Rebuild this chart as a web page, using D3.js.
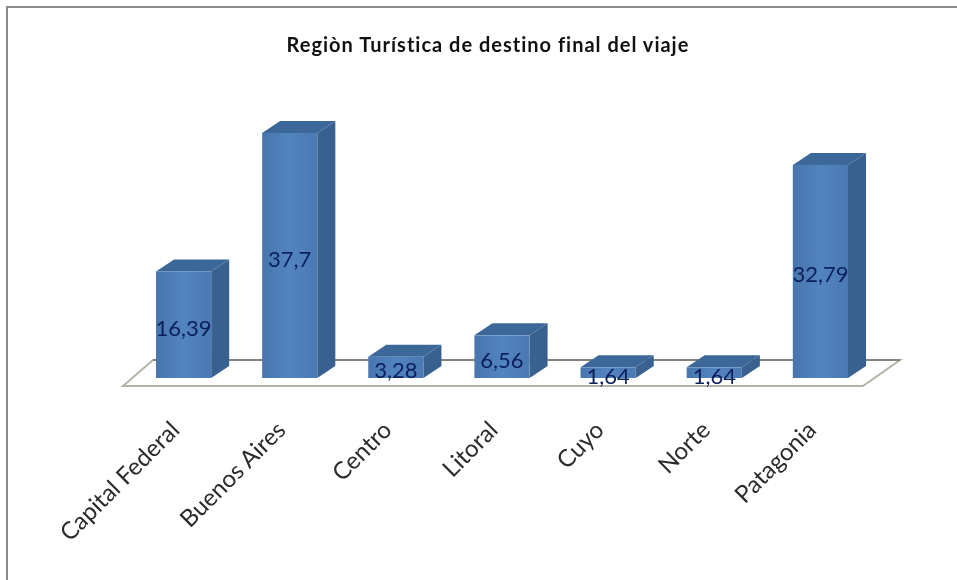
<!DOCTYPE html>
<html>
<head>
<meta charset="utf-8">
<script src="https://cdn.jsdelivr.net/npm/d3@7"></script>
<style>
  html, body { margin: 0; padding: 0; background: #fff; overflow: hidden; }
  /* the reference is a soft, low quality image */
  svg { display: block; filter: blur(0.5px); }
</style>
</head>
<body>
<div id="chart"></div>
<script>
// Data
const regions = ["Capital Federal", "Buenos Aires", "Centro", "Litoral", "Cuyo", "Norte", "Patagonia"];
const shares = [16.39, 37.7, 3.28, 6.56, 1.64, 1.64, 32.79];
const chartTitle = "Regiòn Turística de destino final del viaje";

// Set dimensions
const width = 957,
    height = 580;

// Fake 3D depth of the bars and the floor
const depthX = 18,
    depthY = 12;

const svg = d3.select("#chart")
  .append("svg")
  .attr("width", width)
  .attr("height", height);

// Scales
const x = d3.scaleBand()
  .domain(regions)
  .range([156, 848])
  .paddingInner(0.48)
  .paddingOuter(0);

const y = d3.scaleLinear()
  .domain([0, d3.max(shares)])
  .range([378, 133]);

// Soft horizontal shading on the front faces
const grad = svg.append("defs").append("linearGradient")
  .attr("id", "front");
grad.append("stop").attr("offset", "0%").attr("stop-color", "#4876ae");
grad.append("stop").attr("offset", "50%").attr("stop-color", "#5284c0");
grad.append("stop").attr("offset", "100%").attr("stop-color", "#4a79b3");

// Outer frame (only top and left are visible)
svg.append("path")
  .attr("d", `M7,${height + 5}V7H${width + 5}`)
  .attr("fill", "none")
  .attr("stroke", "#8c8c8c")
  .attr("stroke-width", 2);

// Title
svg.append("text")
  .attr("x", 488)
  .attr("y", 52)
  .attr("text-anchor", "middle")
  .attr("font-family", "Lato, sans-serif")
  .attr("font-weight", "bold")
  .attr("font-size", "20px")
  .attr("letter-spacing", "1px")
  .attr("fill", "#111")
  .text(chartTitle);

// Floor
const floorLeft = x.range()[0] - 33,
    floorRight = x.range()[1] + 15,
    floorFront = y(0) + 8,
    floorBack = y(0) - 18;

svg.append("path")
  .attr("d", `M${floorLeft},${floorFront}L${floorLeft + 30},${floorBack}H${floorRight + 37}L${floorRight},${floorFront}Z`)
  .attr("fill", "#fff")
  .attr("stroke", "#b5b2a8")
  .attr("stroke-width", 2);

svg.append("path")
  .attr("d", `M${floorLeft + 30},${floorBack}H${floorRight + 37}`)
  .attr("stroke", "#85827a")
  .attr("stroke-width", 2);

// Bars: side, top, then front
const data = regions.map((name, i) => ({ name, value: shares[i] }));

const bars = svg.append("g")
  .selectAll("g")
  .data(data)
  .join("g");

bars.append("path")
  .attr("fill", "#38618f")
  .attr("d", d => {
    const r = x(d.name) + x.bandwidth();
    return `M${r},${y(d.value)}l${depthX},${-depthY}V${y(0) - depthY}l${-depthX},${depthY}Z`;
  });

bars.append("path")
  .attr("fill", "#3c6899")
  .attr("d", d => `M${x(d.name)},${y(d.value)}l${depthX},${-depthY}h${x.bandwidth()}l${-depthX},${depthY}Z`);

bars.append("rect")
  .attr("x", d => x(d.name))
  .attr("y", d => y(d.value))
  .attr("width", x.bandwidth())
  .attr("height", d => y(0) - y(d.value))
  .attr("fill", "url(#front)");

// Value labels, decimal comma as in the original
bars.append("text")
  .attr("x", d => x(d.name) + x.bandwidth() / 2)
  .attr("y", d => y(d.value / 2) + 11)
  .attr("text-anchor", "middle")
  .attr("font-family", "Lato, sans-serif")
  .attr("font-size", "22px")
  .attr("fill", "#0b1f5a")
  .text(d => String(d.value).replace(".", ","));

// Category axis with slanted labels
const xAxis = svg.append("g")
  .attr("transform", "translate(-10,427)")
  .call(d3.axisBottom(x).tickSize(0).tickPadding(0));

xAxis.select(".domain").remove();

xAxis.selectAll("text")
  .attr("x", 2)
  .attr("y", 0)
  .attr("dy", "0.35em")
  .attr("transform", "rotate(-45)")
  .attr("text-anchor", "end")
  .attr("font-family", "Lato, sans-serif")
  .attr("font-size", "24px")
  .attr("fill", "#2b2b2b");
</script>
</body>
</html>
